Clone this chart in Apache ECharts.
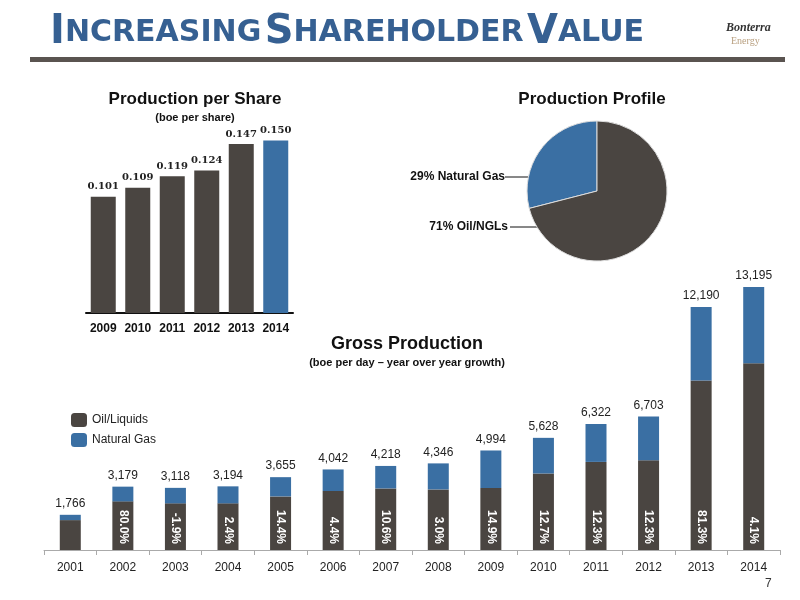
<!DOCTYPE html><html><head><meta charset="utf-8">
<script src="https://cdn.jsdelivr.net/npm/echarts@6/dist/echarts.min.js"></script>
<style>html,body{margin:0;background:#fff}#c{width:800px;height:600px}</style></head><body><div id="c"></div><script>
const years = ['2001','2002','2003','2004','2005','2006','2007','2008','2009','2010','2011','2012','2013','2014'];
const totals = [1766,3179,3118,3194,3655,4042,4218,4346,4994,5628,6322,6703,12190,13195];
const oil = [1500,2440,2340,2340,2690,2960,3090,3040,3110,3840,4420,4500,8510,9370];
const growth = ['','80.0%','-1.9%','2.4%','14.4%','4.4%','10.6%','3.0%','14.9%','12.7%','12.3%','12.3%','81.3%','4.1%'];
const gas = totals.map((t,i)=>t-oil[i]);
const ppsYears = ['2009','2010','2011','2012','2013','2014'];
const pps = [0.101,0.109,0.119,0.124,0.147,0.150];
const pieData = [{name:'29% Natural Gas',value:29},{name:'71% Oil/NGLs',value:71}];
const DARK='#4a4541', BLUE='#3a6fa3';
const ch = echarts.init(document.getElementById('c'));
ch.setOption({
 animation:false,
 textStyle:{fontFamily:'Liberation Sans'},
 title:[
  {text:'Production per Share',subtext:'(boe per share)',left:190,textAlign:'center',top:86,itemGap:4,
   textStyle:{fontSize:17,fontWeight:'bold',color:'#111'},subtextStyle:{fontSize:11,fontWeight:'bold',color:'#111'}},
  {text:'Production Profile',left:587,textAlign:'center',top:86,textStyle:{fontSize:17,fontWeight:'bold',color:'#111'}},
  {text:'Gross Production',subtext:'(boe per day – year over year growth)',left:402,textAlign:'center',top:330,itemGap:4,
   textStyle:{fontSize:18,fontWeight:'bold',color:'#111'},subtextStyle:{fontSize:11,fontWeight:'bold',color:'#111'}}
 ],
 legend:{data:['Oil/Liquids','Natural Gas'],orient:'vertical',left:66,top:408,itemWidth:16,itemHeight:14,itemGap:6,
   textStyle:{fontSize:12,color:'#222'}},
 grid:[{left:86,width:207,top:129,height:184},{left:44,right:20,top:271,height:279}],
 xAxis:[
  {gridIndex:0,type:'category',data:ppsYears,axisTick:{show:false},axisLine:{lineStyle:{color:'#111',width:2}},
   axisLabel:{interval:0,fontSize:12,fontWeight:'bold',color:'#111',margin:10}},
  {gridIndex:1,type:'category',data:years,axisTick:{show:true,lineStyle:{color:'#aaa'}},axisLine:{lineStyle:{color:'#aaa'}},
   axisLabel:{interval:0,fontSize:12,color:'#222',margin:12}}
 ],
 yAxis:[
  {gridIndex:0,type:'value',min:0,max:0.16,show:false},
  {gridIndex:1,type:'value',min:0,max:14000,show:false}
 ],
 series:[
  {type:'bar',xAxisIndex:0,yAxisIndex:0,barWidth:25,
   data:pps.map((v,i)=>({value:v,itemStyle:{color:i===5?BLUE:DARK}})),
   label:{show:true,position:'top',fontSize:10,fontWeight:'bold',color:'#222',fontFamily:'DejaVu Serif',formatter:p=>p.value.toFixed(3)}},
  {name:'Oil/Liquids',type:'bar',xAxisIndex:1,yAxisIndex:1,stack:'g',barWidth:21,data:oil,itemStyle:{color:DARK},
   label:{show:true,position:'insideBottom',distance:6,rotate:-90,align:'right',verticalAlign:'middle',
     fontSize:12,fontWeight:'bold',color:'#fff',formatter:p=>growth[p.dataIndex]}},
  {name:'Natural Gas',type:'bar',xAxisIndex:1,yAxisIndex:1,stack:'g',barWidth:21,data:gas,itemStyle:{color:BLUE},
   label:{show:true,position:'top',fontSize:12,color:'#222',formatter:p=>totals[p.dataIndex].toLocaleString('en-US')}},
  {type:'pie',center:[597,191],radius:70,startAngle:90,clockwise:false,label:{show:false},
   data:pieData.map((d,i)=>({...d,itemStyle:{color:i===0?BLUE:DARK,borderColor:'#ddd',borderWidth:1}}))}
 ],
 graphic:[
  {type:'text',left:50,top:13,style:{text:'{b|I}{s|NCREASING} {b|S}{s|HAREHOLDER} {b|V}{s|ALUE}',rich:{
    b:{fontSize:40,fontWeight:'bold',fill:'#366092',fontFamily:'DejaVu Sans'},
    s:{fontSize:30,fontWeight:'bold',fill:'#366092',fontFamily:'DejaVu Sans'}}}},
  {type:'rect',shape:{x:30,y:57,width:755,height:5},style:{fill:'#5a5450'}},
  {type:'text',left:726,top:22,style:{text:'Bonterra',font:'bold italic 12px Liberation Serif',fill:'#333'}},
  {type:'text',left:731,top:36,style:{text:'Energy',font:'10px Liberation Serif',fill:'#b9a080'}},
  {type:'text',x:505,y:177,style:{text:'29% Natural Gas',font:'bold 12px Liberation Sans',fill:'#111',align:'right',verticalAlign:'middle'}},
  {type:'line',shape:{x1:505,y1:177,x2:565,y2:177},style:{stroke:'#111',lineWidth:1}},
  {type:'text',x:508,y:227,style:{text:'71% Oil/NGLs',font:'bold 12px Liberation Sans',fill:'#111',align:'right',verticalAlign:'middle'}},
  {type:'line',shape:{x1:510,y1:227,x2:555,y2:227},style:{stroke:'#111',lineWidth:1}},
  {type:'text',left:765,top:578,style:{text:'7',font:'12px Liberation Sans',fill:'#333'}}
 ]
});
</script></body></html>
